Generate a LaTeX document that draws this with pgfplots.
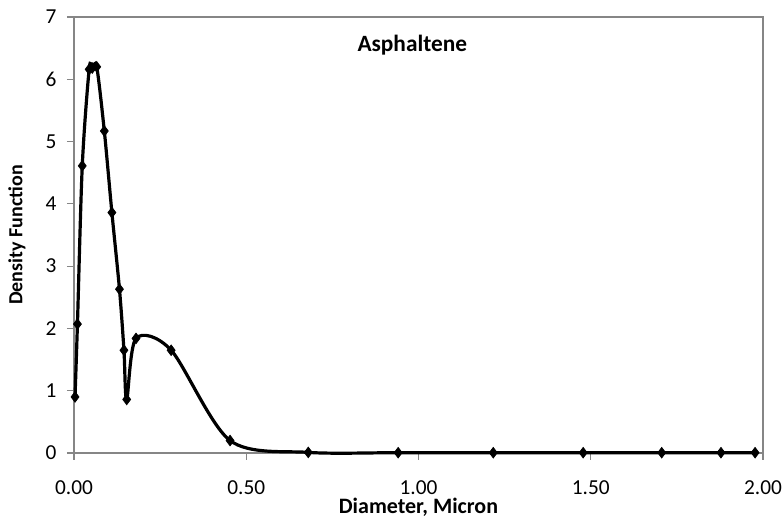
\documentclass[border=0pt]{standalone}
\usepackage{pgfplots}
\pgfplotsset{compat=1.18}
\usepackage{fontspec}
\setmainfont{Carlito}
\definecolor{axgray}{RGB}{134,134,134}
\pgfplotstableread{
x y
0.003 0.90
0.010 2.07
0.024 4.61
0.044 6.16
0.053 6.18
0.066 6.20
0.088 5.17
0.110 3.86
0.132 2.63
0.145 1.65
0.153 0.86
0.180 1.84
0.282 1.65
0.453 0.20
0.680 0.01
0.941 0.005
1.217 0.005
1.478 0.005
1.706 0.005
1.878 0.005
1.977 0.005
}\datatable
\begin{document}
\begin{tikzpicture}
\path[use as bounding box] (-55.5pt,-48pt) rectangle (531pt,339.75pt);
\begin{axis}[
  scale only axis,
  width=516.75pt, height=327pt,
  xmin=0, xmax=2, ymin=0, ymax=7,
  xtick={0,0.5,1,1.5,2},
  ytick={0,1,2,3,4,5,6,7},
  x tick label style={/pgf/number format/fixed, /pgf/number format/fixed zerofill, /pgf/number format/precision=2},
  /pgf/number format/assume math mode=true,
  axis line style={axgray, line width=0.8pt},
  tick style={axgray, line width=0.8pt},
  tick align=outside,
  major tick length=5.25pt,
  xtick pos=bottom, ytick pos=left,
  tick label style={font=\fontsize{16}{18}\selectfont, black},
  yticklabel style={anchor=center, xshift=-12pt},
  xticklabel style={anchor=center, inner sep=0.5pt, yshift=-20.5pt},
  xlabel={\textbf{Diameter, Micron}},
  ylabel={\textbf{Density Function}},
  xlabel style={font=\fontsize{16.5}{18}\selectfont, inner sep=0pt, at={(axis description cs:0.5,0)}, anchor=center, yshift=-41pt},
  ylabel style={font=\fontsize{15}{17}\selectfont, at={(axis description cs:0,0.5)}, anchor=center, yshift=42.75pt},
  clip=false,
]
\addplot[black, line width=2.4pt, smooth, tension=0.5, mark=diamond*, mark size=4pt, mark options={solid, fill=black, line width=0.5pt}] table[x=x,y=y] {\datatable};
\node[font=\fontsize{17.5}{19}\selectfont\bfseries] at (rel axis cs:0.491,0.936) {Asphaltene};
\end{axis}
\end{tikzpicture}
\end{document}
